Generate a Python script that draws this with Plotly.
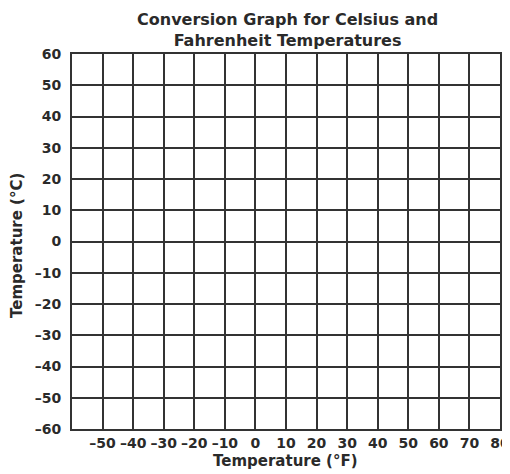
import plotly.graph_objects as go

# Axis ranges and tick values (degrees)
x_range = [-60, 80]
y_range = [-60, 60]
x_ticks = [-50, -40, -30, -20, -10, 0, 10, 20, 30, 40, 50, 60, 70, 80]
y_ticks = [-60, -50, -40, -30, -20, -10, 0, 10, 20, 30, 40, 50, 60]
x_tick_labels = [str(v).replace("-", "\u2013") for v in x_ticks]
y_tick_labels = [str(v).replace("-", "\u2013") for v in y_ticks]

title_lines = ["Conversion Graph for Celsius and", "Fahrenheit Temperatures"]
x_title = "Temperature (°F)"
y_title = "Temperature (°C)"

grid_color = "#333333"
text_color = "#2a2a2a"
font_family = "DejaVu Sans, Liberation Sans, Arial, sans-serif"

# page offset (browser default body margin) compensation
OFF = 8
FIG_W, FIG_H = 510 - OFF, 474 - OFF
M_L, M_R, M_T, M_B = 64, 10, 46, 45
PW = FIG_W - M_L - M_R
PH = FIG_H - M_T - M_B


def fx(sx):
    return (sx - OFF - M_L) / PW


def fy(sy):
    return (FIG_H - M_B - (sy - OFF)) / PH


def label(text, sx, sy, size, angle=0):
    return dict(text="<b>" + text + "</b>", x=fx(sx), y=fy(sy),
                xref="paper", yref="paper", xanchor="center", yanchor="middle",
                textangle=angle, showarrow=False,
                font=dict(family=font_family, size=size, color=text_color))


fig = go.Figure()

fig.update_layout(
    width=FIG_W,
    height=FIG_H,
    margin=dict(l=M_L, r=M_R, t=M_T, b=M_B, autoexpand=False),
    paper_bgcolor="white",
    plot_bgcolor="white",
    showlegend=False,
    font=dict(family=font_family, size=14, color=text_color),
    annotations=[
        label("<br>".join(title_lines), 287, 29.5, 16),
        label(x_title, 285, 461, 15),
        label(y_title, 17, 246, 15, angle=-90),
    ],
)

axis_common = dict(
    tickmode="array",
    showgrid=True,
    gridcolor=grid_color,
    gridwidth=2,
    showline=True,
    linecolor=grid_color,
    linewidth=2,
    mirror=True,
    ticks="",
    zeroline=False,
    automargin=False,
    tickfont=dict(size=14, weight="bold", color=text_color),
    fixedrange=True,
)

fig.update_xaxes(range=x_range, tickvals=x_ticks, ticktext=x_tick_labels,
                 ticklabelstandoff=0, **axis_common)
fig.update_yaxes(range=y_range, tickvals=y_ticks, ticktext=y_tick_labels,
                 ticklabelstandoff=6, **axis_common)

fig.write_html("out.html")
